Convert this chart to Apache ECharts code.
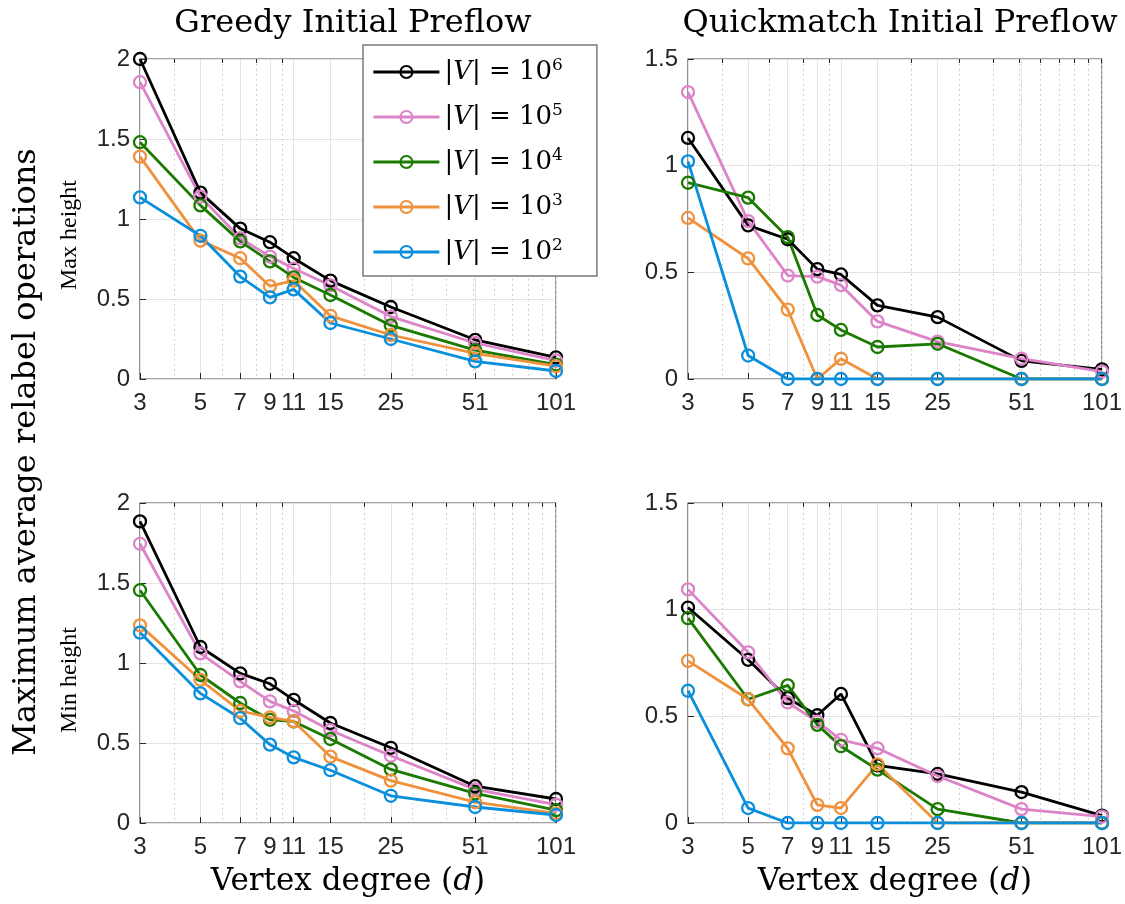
<!DOCTYPE html>
<html>
<head>
<meta charset="utf-8">
<script src="https://cdn.jsdelivr.net/npm/echarts@6/dist/echarts.min.js"></script>
<style>
  html, body { margin: 0; padding: 0; background: #fff; }
  #chart { width: 1125px; height: 904px; }
</style>
</head>
<body>
<div id="chart"></div>
<script>
const degrees = [3, 5, 7, 9, 11, 15, 25, 51, 101];
const minorDegrees = [4, 6, 8, 10, 20, 30, 40, 50, 60, 70, 80, 90, 100];
const sizeNames = ['|V| = 10^6', '|V| = 10^5', '|V| = 10^4', '|V| = 10^3', '|V| = 10^2'];
const colors = ['#000000', '#DD84C8', '#1A7A00', '#F0913C', '#0A8FDC'];

// one row per |V| (10^6 ... 10^2), one value per degree
const greedyMax = [
  [2.0, 1.165, 0.94, 0.855, 0.755, 0.615, 0.45, 0.245, 0.135],
  [1.855, 1.14, 0.88, 0.765, 0.69, 0.585, 0.39, 0.225, 0.115],
  [1.48, 1.085, 0.86, 0.735, 0.635, 0.525, 0.335, 0.18, 0.09],
  [1.39, 0.865, 0.755, 0.58, 0.615, 0.395, 0.275, 0.16, 0.08],
  [1.135, 0.895, 0.64, 0.51, 0.56, 0.35, 0.25, 0.11, 0.05]
];
const quickMax = [
  [1.13, 0.72, 0.655, 0.515, 0.49, 0.345, 0.29, 0.085, 0.045],
  [1.345, 0.74, 0.485, 0.48, 0.44, 0.27, 0.175, 0.095, 0.035],
  [0.92, 0.85, 0.665, 0.3, 0.23, 0.15, 0.165, 0, 0],
  [0.755, 0.565, 0.325, 0, 0.095, 0, 0, 0, 0],
  [1.02, 0.11, 0, 0, 0, 0, 0, 0, 0]
];
const greedyMin = [
  [1.885, 1.1, 0.935, 0.87, 0.77, 0.625, 0.47, 0.23, 0.15],
  [1.745, 1.06, 0.885, 0.76, 0.7, 0.58, 0.42, 0.21, 0.115],
  [1.455, 0.925, 0.75, 0.645, 0.635, 0.525, 0.335, 0.185, 0.08],
  [1.235, 0.895, 0.7, 0.66, 0.635, 0.415, 0.265, 0.13, 0.06],
  [1.19, 0.81, 0.655, 0.49, 0.41, 0.33, 0.17, 0.1, 0.05]
];
const quickMin = [
  [1.01, 0.765, 0.585, 0.505, 0.605, 0.27, 0.23, 0.145, 0.035],
  [1.095, 0.8, 0.565, 0.475, 0.39, 0.35, 0.22, 0.065, 0.03],
  [0.96, 0.58, 0.645, 0.46, 0.36, 0.25, 0.065, 0, 0],
  [0.76, 0.58, 0.35, 0.085, 0.07, 0.275, 0, 0, 0],
  [0.62, 0.07, 0, 0, 0, 0, 0, 0, 0]
];
const panels = [greedyMax, quickMax, greedyMin, quickMin];
const yTops = [2, 1.5, 2, 1.5];
const titles = ['Greedy Initial Preflow', 'Quickmatch Initial Preflow'];

const axisColor = '#262626';
const sans = '"Liberation Sans", Arial, sans-serif';
const serif = '"DejaVu Serif", serif';
const narrowSerif = '"Liberation Serif", "Times New Roman", serif';

const grids = [
  { left: 140, top: 59, width: 416, height: 320 },
  { left: 688, top: 59, width: 415, height: 320 },
  { left: 140, top: 503, width: 416, height: 320 },
  { left: 688, top: 503, width: 415, height: 320 }
].map(g => Object.assign(g, { show: true, borderColor: '#4a4a4a', borderWidth: 1.2, backgroundColor: '#fff' }));

const xAxis = [];
const yAxis = [];
grids.forEach((g, i) => {
  // major ticks, labels and solid grid
  xAxis.push({
    type: 'log', logBase: 10, gridIndex: i, min: 3, max: 101,
    axisLine: { show: false },
    axisTick: { show: true, inside: true, length: 6, customValues: degrees, lineStyle: { color: axisColor } },
    axisLabel: { customValues: degrees, margin: 12, fontSize: 24, fontFamily: sans, color: axisColor },
    splitLine: { show: true, lineStyle: { color: '#e3e3e3', width: 1 } }
  });
  // minor ticks and dotted grid
  xAxis.push({
    type: 'log', logBase: 10, gridIndex: i, min: 3, max: 101, position: 'top',
    axisLine: { show: false },
    axisTick: { show: true, inside: true, length: 4, customValues: minorDegrees, lineStyle: { color: axisColor } },
    axisLabel: { show: false },
    splitLine: { show: true, lineStyle: { color: '#c4c4c4', width: 1, type: [1.5, 3.5] } }
  });
  yAxis.push({
    type: 'value', gridIndex: i, min: 0, max: yTops[i], interval: 0.5,
    axisLine: { show: false },
    axisTick: { show: true, inside: true, length: 6, lineStyle: { color: axisColor } },
    axisLabel: { margin: 10, fontSize: 24, fontFamily: sans, color: axisColor },
    splitLine: { show: true, lineStyle: { color: '#e3e3e3', width: 1 } }
  });
});

const series = [];
panels.forEach((rows, p) => {
  rows.forEach((vals, s) => {
    series.push({
      type: 'line',
      name: sizeNames[s],
      xAxisIndex: p * 2,
      yAxisIndex: p,
      data: degrees.map((d, k) => [d, vals[k]]),
      symbol: 'circle',
      symbolSize: 12,
      lineStyle: { color: colors[s], width: 2.8 },
      itemStyle: { color: 'rgba(255,255,255,0)', borderColor: colors[s], borderWidth: 2.3 },
      emphasis: { disabled: true },
      animation: false
    });
  });
});

const option = {
  backgroundColor: '#fff',
  animation: false,
  title: titles.map((t, i) => ({
    text: t,
    left: i === 0 ? 348 : 895,
    top: 3,
    textAlign: 'center',
    textStyle: { fontFamily: serif, fontSize: 32, fontWeight: 'normal', color: '#000' }
  })),
  legend: {
    left: 363, top: 45, orient: 'vertical',
    data: sizeNames,
    backgroundColor: '#fff',
    borderColor: '#7a7a7a', borderWidth: 1.5,
    padding: [12, 34, 11, 9],
    itemWidth: 66, itemHeight: 15, itemGap: 17,
    lineStyle: { width: 2.8 },
    formatter: name => {
      const exp = name.split('^')[1];
      return '{n||}{v|V}{n|| = 10}{s|' + exp + '}';
    },
    textStyle: {
      color: '#000',
      rich: {
        n: { fontFamily: serif, fontSize: 26, lineHeight: 30, color: '#000' },
        v: { fontFamily: serif, fontSize: 26, lineHeight: 30, fontStyle: 'italic', color: '#000' },
        s: { fontFamily: serif, fontSize: 17, lineHeight: 17, verticalAlign: 'top', color: '#000' }
      }
    }
  },
  grid: grids,
  xAxis: xAxis,
  yAxis: yAxis,
  graphic: [
    {
      type: 'text', x: 27, y: 452, rotation: Math.PI / 2,
      style: { text: 'Maximum average relabel operations', fontFamily: serif, fontSize: 32, fill: '#000', align: 'center', verticalAlign: 'middle' }
    },
    {
      type: 'text', x: 70, y: 235, rotation: Math.PI / 2,
      style: { text: 'Max height', fontFamily: narrowSerif, fontSize: 24, fill: '#000', align: 'center', verticalAlign: 'middle' }
    },
    {
      type: 'text', x: 70, y: 680, rotation: Math.PI / 2,
      style: { text: 'Min height', fontFamily: narrowSerif, fontSize: 24, fill: '#000', align: 'center', verticalAlign: 'middle' }
    },
    {
      type: 'text', x: 348, y: 882,
      style: {
        text: 'Vertex degree ({i|d})', fontFamily: serif, fontSize: 31, fill: '#000', align: 'center', verticalAlign: 'middle',
        rich: { i: { fontFamily: serif, fontSize: 31, fontStyle: 'italic', fill: '#000' } }
      }
    },
    {
      type: 'text', x: 895, y: 882,
      style: {
        text: 'Vertex degree ({i|d})', fontFamily: serif, fontSize: 31, fill: '#000', align: 'center', verticalAlign: 'middle',
        rich: { i: { fontFamily: serif, fontSize: 31, fontStyle: 'italic', fill: '#000' } }
      }
    }
  ],
  series: series
};

const chart = echarts.init(document.getElementById('chart'), null, { renderer: 'canvas' });
chart.setOption(option);
</script>
</body>
</html>
